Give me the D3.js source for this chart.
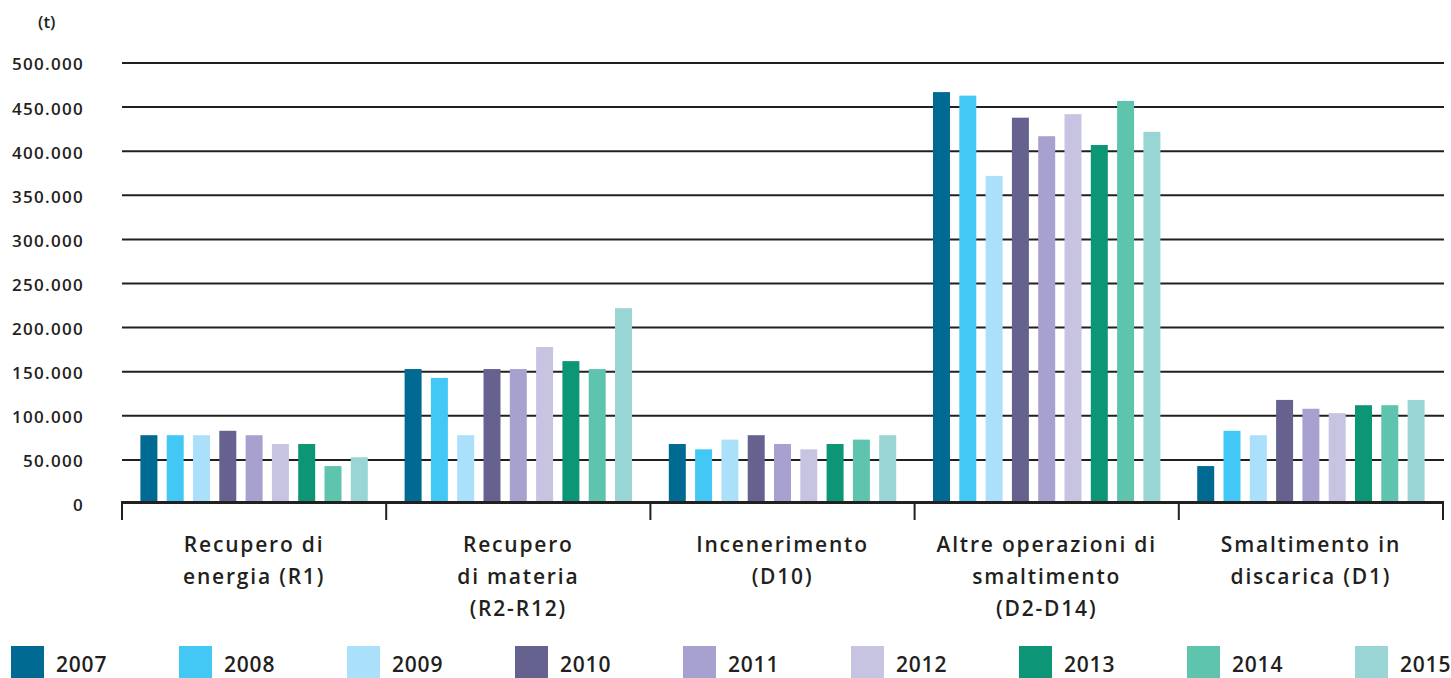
<!DOCTYPE html>
<html>
<head>
<meta charset="utf-8">
<script src="https://cdn.jsdelivr.net/npm/d3@7"></script>
<style>
  html, body { margin: 0; padding: 0; background: #fff; }
  svg { display: block; font-family: "Open Sans", "DejaVu Sans", sans-serif; }
</style>
</head>
<body>
<svg id="chart" width="1451" height="678"></svg>
<script>
// Waste management operations by type, tonnes per year
const categories = [
  ["Recupero di", "energia (R1)"],
  ["Recupero", "di materia", "(R2-R12)"],
  ["Incenerimento", "(D10)"],
  ["Altre operazioni di", "smaltimento", "(D2-D14)"],
  ["Smaltimento in", "discarica (D1)"]
];
const years = ["2007", "2008", "2009", "2010", "2011", "2012", "2013", "2014", "2015"];
const values2007 = [78000, 153000, 68000, 467000, 43000];
const values2008 = [78000, 143000, 62000, 463000, 83000];
const values2009 = [78000, 78000, 73000, 372000, 78000];
const values2010 = [83000, 153000, 78000, 438000, 118000];
const values2011 = [78000, 153000, 68000, 417000, 108000];
const values2012 = [68000, 178000, 62000, 442000, 103000];
const values2013 = [68000, 162000, 68000, 407000, 112000];
const values2014 = [43000, 153000, 73000, 457000, 112000];
const values2015 = [53000, 222000, 78000, 422000, 118000];
const yTicks = [0, 50000, 100000, 150000, 200000, 250000, 300000, 350000, 400000, 450000, 500000];
const colors = ["#006a93", "#43c8f5", "#abe0fa", "#656290", "#a7a1cf", "#c7c4e2", "#0c9675", "#5fc4ae", "#98d5d4"];

const series = [values2007, values2008, values2009, values2010, values2011,
                values2012, values2013, values2014, values2015];

const svg = d3.select("#chart");
const ink = "#231f20";

const plotLeft = 122, plotRight = 1443, plotTop = 63, plotBottom = 504;

const x0 = d3.scaleBand().domain(d3.range(categories.length)).range([plotLeft, plotRight]).padding(0);
const x1 = d3.scaleBand().domain(years).range([0, x0.bandwidth()]).paddingInner(0.354).paddingOuter(0.7);
const y = d3.scaleLinear().domain([0, 500000]).range([plotBottom, plotTop]);

const locale = d3.formatLocale({ decimal: ",", thousands: ".", grouping: [3], currency: ["", "€"] });
const fmt = locale.format(",d");

// horizontal gridlines
svg.append("g")
  .selectAll("line")
  .data(yTicks.filter(d => d > 0))
  .join("line")
  .attr("x1", plotLeft).attr("x2", plotRight + 1)
  .attr("y1", d => y(d)).attr("y2", d => y(d))
  .attr("stroke", ink).attr("stroke-width", 2);

// y axis labels
const yAxis = svg.append("g")
  .attr("transform", `translate(${plotLeft - 38},1.5)`)
  .call(d3.axisLeft(y).tickValues(yTicks).tickSize(0).tickPadding(0).tickFormat(fmt));
yAxis.select(".domain").remove();
yAxis.selectAll("text")
  .attr("font-family", "'Open Sans', sans-serif")
  .attr("font-size", 17).attr("font-weight", 600).attr("fill", ink)
  .attr("letter-spacing", 1.3);

svg.append("text")
  .attr("x", 38).attr("y", 28)
  .attr("font-size", 17).attr("font-weight", 600).attr("fill", ink)
  .text("(t)");

// bars
const groups = svg.append("g")
  .selectAll("g")
  .data(categories.map((c, i) => i))
  .join("g")
  .attr("transform", i => `translate(${x0(i)},0)`);

groups.selectAll("rect")
  .data(i => years.map((yr, k) => ({ year: yr, k, value: series[k][i] })))
  .join("rect")
  .attr("x", d => x1(d.year))
  .attr("width", x1.bandwidth())
  .attr("y", d => y(d.value))
  .attr("height", d => y(0) - y(d.value))
  .attr("fill", d => colors[d.k]);

// baseline and category separators
svg.append("line")
  .attr("x1", plotLeft).attr("x2", plotRight + 1)
  .attr("y1", y(0) - 1.5).attr("y2", y(0) - 1.5)
  .attr("stroke", ink).attr("stroke-width", 3);

svg.append("g")
  .selectAll("line")
  .data(d3.range(categories.length + 1))
  .join("line")
  .attr("x1", i => plotLeft + i * x0.bandwidth())
  .attr("x2", i => plotLeft + i * x0.bandwidth())
  .attr("y1", y(0) - 3).attr("y2", 520)
  .attr("stroke", ink).attr("stroke-width", 2);

// category labels
svg.append("g")
  .selectAll("text")
  .data(categories)
  .join("text")
  .attr("text-anchor", "middle")
  .attr("font-size", 21).attr("font-weight", 600).attr("fill", ink)
  .attr("letter-spacing", 1.8)
  .attr("transform", (d, i) => `translate(${x0(i) + x0.bandwidth() / 2},552)`)
  .selectAll("tspan")
  .data(d => d)
  .join("tspan")
  .attr("x", 0)
  .attr("y", (d, j) => j * 32)
  .text(d => d);

// legend
const legend = svg.append("g")
  .selectAll("g")
  .data(years)
  .join("g")
  .attr("transform", (d, i) => `translate(${11 + i * 168},646)`);

legend.append("rect")
  .attr("width", 33).attr("height", 32)
  .attr("fill", (d, i) => colors[i]);

legend.append("text")
  .attr("x", 45).attr("y", 26)
  .attr("font-size", 21).attr("font-weight", 600).attr("fill", ink)
  .attr("letter-spacing", 0.8)
  .text(d => d);
</script>
</body>
</html>
